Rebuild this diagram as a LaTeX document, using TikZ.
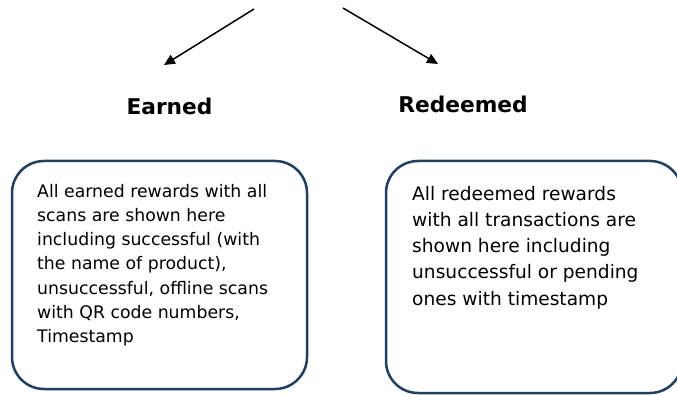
\documentclass[tikz,border=0pt]{standalone}
\usepackage{fontspec}
\setmainfont{DejaVu Sans}
\usetikzlibrary{arrows.meta}
\definecolor{boxblue}{HTML}{213F60}
\tikzset{
  x=1pt,y=1pt,
  conn/.style={line width=1.5pt,-{Triangle[length=11pt,width=10pt]}},
  title/.style={font=\bfseries\fontsize{21.7}{26}\selectfont,anchor=base,inner sep=0pt},
  panel/.style={draw=boxblue,line width=2.5pt,rounded corners=32pt,inner sep=0pt},
  bodyleft/.style={font=\fontsize{17.3}{24.2}\selectfont,align=left,anchor=north west,inner sep=0pt},
  bodyright/.style={font=\fontsize{18.6}{26.2}\selectfont,align=left,anchor=north west,inner sep=0pt}
}
\begin{document}
\begin{tikzpicture}
\clip (0,0) rectangle (677,394);
\useasboundingbox (0,0) rectangle (677,394);
\coordinate (ls) at (254,385);
\coordinate (le) at (164,329);
\coordinate (rs) at (343,386);
\coordinate (re) at (438,330);
\draw[conn] (ls) -- (le);
\draw[conn] (rs) -- (re);
\node[title] (earned) at (169.5,279) {Earned};
\node[title] (redeemed) at (463,281) {Redeemed};
\node[panel,minimum width=295pt,minimum height=228pt] (lbox) at (159.5,119) {};
\node[panel,minimum width=296pt,minimum height=232pt] (rbox) at (534,117) {};
\node[bodyleft] (ltext) at (37,210) {All earned rewards with all\\scans are shown here\\including successful (with\\the name of product),\\unsuccessful, offline scans\\with QR code numbers,\\Timestamp};
\node[bodyright] (rtext) at (412,208) {All redeemed rewards\\with all transactions are\\shown here including\\unsuccessful or pending\\ones with timestamp};
\end{tikzpicture}
\end{document}
